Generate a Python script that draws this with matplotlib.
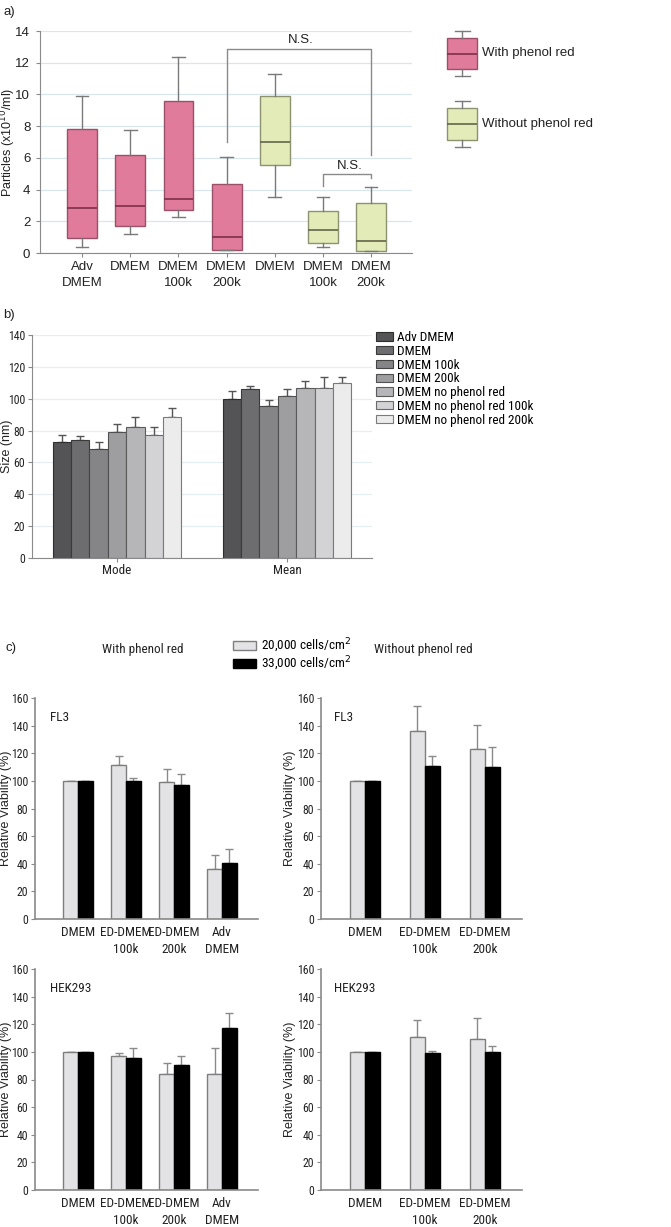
import matplotlib
matplotlib.use("Agg")
import matplotlib.pyplot as plt
from matplotlib import font_manager as fm
import numpy as np
from matplotlib.patches import Patch

plt.rcParams['font.family'] = ['Liberation Sans', 'DejaVu Sans']

W, H = 671, 1227

# ---- panel a: particle counts (box stats: whislo, q1, med, q3, whishi)
a_labels = ["Adv\nDMEM", "DMEM", "DMEM\n100k", "DMEM\n200k", "DMEM", "DMEM\n100k", "DMEM\n200k"]
a_group = ["with", "with", "with", "with", "without", "without", "without"]
a_whislo = [0.38, 1.2, 2.29, 0.2, 3.52, 0.39, 0.1]
a_q1 = [0.97, 1.73, 2.69, 0.2, 5.54, 0.66, 0.1]
a_med = [2.86, 2.99, 3.41, 0.99, 7.03, 1.44, 0.73]
a_q3 = [7.8, 6.19, 9.58, 4.36, 9.87, 2.62, 3.14]
a_whishi = [9.87, 7.77, 12.36, 6.06, 11.3, 3.52, 4.19]

# ---- panel b: vesicle size
b_series = ["Adv DMEM", "DMEM", "DMEM 100k", "DMEM 200k", "DMEM no phenol red",
            "DMEM no phenol red 100k", "DMEM no phenol red 200k"]
b_groups = ["Mode", "Mean"]
b_mode = [73, 74, 68.3, 78.8, 82.4, 77.1, 88.7]
b_mode_err = [4.0, 2.7, 4.6, 5.2, 6.3, 5.1, 5.2]
b_mean = [100, 106, 95.4, 101.4, 106.9, 106.9, 109.6]
b_mean_err = [4.6, 2.2, 3.9, 4.9, 4.4, 6.9, 4.0]

# ---- panel c: relative viability
c_series = ["20,000 cells/cm$^2$", "33,000 cells/cm$^2$"]
c_cats_with = ["DMEM", "ED-DMEM\n100k", "ED-DMEM\n200k", "Adv\nDMEM"]
c_cats_without = ["DMEM", "ED-DMEM\n100k", "ED-DMEM\n200k"]

fl3_with_lo = [100, 111.5, 99.4, 36]
fl3_with_lo_err = [0, 6.7, 9, 10]
fl3_with_hi = [100, 99.6, 97.2, 40.3]
fl3_with_hi_err = [0, 2.2, 7.5, 10.2]

fl3_without_lo = [100, 136, 123.3]
fl3_without_lo_err = [0, 18.5, 17]
fl3_without_hi = [100, 110.8, 110.3]
fl3_without_hi_err = [0, 7, 14]

hek_with_lo = [100, 97.1, 83.9, 83.9]
hek_with_lo_err = [0, 1.9, 7.7, 19.2]
hek_with_hi = [100, 95.9, 90.8, 117.1]
hek_with_hi_err = [0, 7, 6.5, 10.9]

hek_without_lo = [100, 111.1, 109.2]
hek_without_lo_err = [0, 12.3, 15]
hek_without_hi = [100, 99.3, 100.2]
hek_without_hi_err = [0, 1.2, 3.8]


# look for a condensed sans face; fall back to a smaller regular font
def find_narrow():
    prefs = ["Liberation Sans Narrow", "Roboto Condensed", "Open Sans Condensed",
             "Noto Sans", "Open Sans", "Roboto", "DejaVu Sans"]
    found = []
    for f in fm.fontManager.ttflist:
        tag = (f.name + " " + str(f.stretch) + " " + f.fname).lower()
        if "condensed" not in tag and "narrow" not in tag:
            continue
        if "extra" in tag or "ultra" in tag or "semi" in tag:
            continue
        if f.style != "normal" or f.weight not in (400, "normal", "regular"):
            continue
        rank = next((i for i, p in enumerate(prefs) if f.name.startswith(p)), 99)
        found.append((rank, f.fname))
    if found:
        return sorted(found)[0][1]
    return None


NARROW_FILE = find_narrow()


def nfp(size):
    if NARROW_FILE:
        return fm.FontProperties(fname=NARROW_FILE, size=size)
    return fm.FontProperties(family=['Liberation Sans', 'DejaVu Sans'], size=size * 0.82)


def rect(l, t, r, b):
    return [l / W, 1 - b / H, (r - l) / W, (b - t) / H]


def ftext(x, y, s, **kw):
    fig.text(x / W, 1 - y / H, s, **kw)


fig = plt.figure(figsize=(W / 100, H / 100), dpi=100)

PINK, PINK_E, PINK_M = "#e07b9c", "#9a5068", "#7d2f4a"
GREEN, GREEN_E, GREEN_M = "#e3ebb8", "#8e9270", "#62654a"
GRIDC = "#d9e7ec"
SPINE = "#8a8a8a"
TXT = "#222"

# ================= panel a =================
ax = fig.add_axes(rect(40, 31, 412, 253))
pos = np.arange(1, len(a_labels) + 1)
stats = [dict(whislo=a_whislo[i], q1=a_q1[i], med=a_med[i], q3=a_q3[i],
              whishi=a_whishi[i], fliers=[]) for i in range(len(a_labels))]
bp = ax.bxp(stats, positions=pos, widths=0.62, patch_artist=True,
            showfliers=False, capwidths=0.26)
for i, g in enumerate(a_group):
    fc, ec, mc = (PINK, PINK_E, PINK_M) if g == "with" else (GREEN, GREEN_E, GREEN_M)
    bp['boxes'][i].set(facecolor=fc, edgecolor=ec, linewidth=1)
    bp['medians'][i].set(color=mc, linewidth=1.2)
for k in ('whiskers', 'caps'):
    for ln in bp[k]:
        ln.set(color="#7a7a7a", linewidth=1)
ax.set_xlim(0.125, 7.85)
ax.set_ylim(0, 14)
ax.set_yticks(np.arange(0, 15, 2))
ax.set_xticks(pos)
ax.set_xticklabels(a_labels, fontsize=9.5, color=TXT, linespacing=1.4)
ax.tick_params(axis='y', labelsize=9.5, colors=TXT, length=3, color=SPINE, pad=4)
ax.tick_params(axis='x', length=3, color=SPINE, pad=3)
ax.yaxis.grid(True, color=GRIDC, linewidth=0.9)
ax.set_axisbelow(True)
for s in ('top', 'right'):
    ax.spines[s].set_visible(False)
for s in ('left', 'bottom'):
    ax.spines[s].set_color(SPINE)
ax.set_ylabel("Particles (x10$^{10}$/ml)", fontsize=9, color=TXT)
ax.yaxis.set_label_coords(-0.06, 0.5)

# significance brackets
bc = "#8a8a8a"
ax.plot([4, 4, 7, 7], [7.0, 12.85, 12.85, 6.2], color=bc, lw=1)
ax.text(5.55, 13.45, "N.S.", ha='center', va='center', fontsize=9.5, color=TXT)
ax.plot([6, 6, 7, 7], [4.23, 4.99, 4.99, 4.7], color=bc, lw=1)
ax.text(6.55, 5.5, "N.S.", ha='center', va='center', fontsize=9.5, color=TXT)

# legend for panel a (small boxes)
lax = fig.add_axes(rect(430, 20, 670, 160))
lax.set_xlim(430, 670)
lax.set_ylim(160, 20)
lax.axis('off')
leg_stats = [dict(whislo=76, q1=69, med=53.5, q3=38, whishi=31, fliers=[]),
             dict(whislo=147, q1=140, med=124, q3=108, whishi=101, fliers=[])]
lbp = lax.bxp(leg_stats, positions=[462, 462], widths=30, patch_artist=True,
              showfliers=False, capwidths=15)
for i, (fc, ec, mc) in enumerate([(PINK, PINK_E, PINK_M), (GREEN, GREEN_E, GREEN_M)]):
    lbp['boxes'][i].set(facecolor=fc, edgecolor=ec, linewidth=1)
    lbp['medians'][i].set(color=mc, linewidth=1.2)
for k in ('whiskers', 'caps'):
    for ln in lbp[k]:
        ln.set(color="#7a7a7a", linewidth=1)
lax.text(482, 53, "With phenol red", va='center', fontsize=9.5, color=TXT)
lax.text(482, 124, "Without phenol red", va='center', fontsize=9.5, color=TXT)

ftext(3, 12, "a)", fontsize=9.5, va='center', color=TXT)

# ================= panel b =================
bx = fig.add_axes(rect(32, 335, 372, 558))
b_colors = ["#545456", "#6d6d6f", "#858587", "#9e9ea0", "#b6b6b8", "#d3d3d5", "#ececec"]
b_edges = ["#2e2e2e", "#3a3a3a", "#444", "#505050", "#5a5a5a", "#6a6a6a", "#7a7a7a"]
gx = np.arange(len(b_groups))
bw = 0.108
for i, name in enumerate(b_series):
    vals = [b_mode[i], b_mean[i]]
    errs = [b_mode_err[i], b_mean_err[i]]
    xs = gx + (i - 3) * bw
    bx.bar(xs, vals, bw, color=b_colors[i], edgecolor=b_edges[i], linewidth=0.8,
           label=name, zorder=2)
    bx.errorbar(xs, vals, yerr=[[0, 0], errs], fmt='none', ecolor="#555",
                elinewidth=1, capsize=3, capthick=1, zorder=1)
bx.set_xlim(-0.5, 1.5)
bx.set_ylim(0, 140)
bx.set_yticks(np.arange(0, 141, 20))
bx.set_xticks(gx)
bx.set_xticklabels(b_groups, color=TXT)
bx.set_yticklabels([str(v) for v in range(0, 141, 20)], color=TXT)
for lab in bx.get_xticklabels():
    lab.set_fontproperties(nfp(9.5))
for lab in bx.get_yticklabels():
    lab.set_fontproperties(nfp(8.5))
bx.tick_params(axis='y', length=3, color=SPINE, pad=2)
bx.tick_params(axis='x', length=3, color=SPINE, pad=1.5)
bx.yaxis.grid(True, color="#e6eef0", linewidth=0.9)
bx.set_axisbelow(True)
for s in ('top', 'right'):
    bx.spines[s].set_visible(False)
for s in ('left', 'bottom'):
    bx.spines[s].set_color(SPINE)
bx.set_ylabel("Size (nm)", fontsize=9, color=TXT)
bx.yaxis.set_label_coords(-0.055, 0.5)
bx.legend(loc='upper left', bbox_to_anchor=(376 / W, 1 - 331 / H),
          bbox_transform=fig.transFigure, frameon=False,
          prop=nfp(9.5), handlelength=1.3, handleheight=0.6,
          handletextpad=0.3, labelspacing=0.06, borderpad=0, borderaxespad=0)

ftext(3, 315, "b)", fontsize=9.5, va='center', color=TXT)

# ================= panel c =================
LIGHT, LIGHT_E = "#e3e3e5", "#7e7e7e"
DARK = "#000000"


def viability(rect_px, cats, lo, lo_err, hi, hi_err, bw, xlim, cell, lab_x):
    cx = fig.add_axes(rect(*rect_px))
    xs = np.arange(len(cats))
    cx.bar(xs - bw / 2, lo, bw, color=LIGHT, edgecolor=LIGHT_E, linewidth=1, zorder=2)
    cx.bar(xs + bw / 2, hi, bw, color=DARK, edgecolor=DARK, linewidth=1, zorder=2)
    cx.errorbar(xs - bw / 2, lo, yerr=[np.zeros(len(lo)), lo_err], fmt='none',
                ecolor="#8a8a8a", elinewidth=1, capsize=3, capthick=1, zorder=1)
    cx.errorbar(xs + bw / 2, hi, yerr=[np.zeros(len(hi)), hi_err], fmt='none',
                ecolor="#8a8a8a", elinewidth=1, capsize=3, capthick=1, zorder=1)
    cx.set_xlim(*xlim)
    cx.set_ylim(0, 160)
    cx.set_yticks(np.arange(0, 161, 20))
    cx.set_yticklabels([str(v) for v in range(0, 161, 20)], color=TXT)
    cx.set_xticks(xs)
    cx.set_xticklabels(cats, color=TXT, linespacing=1.45)
    for lab in cx.get_xticklabels():
        lab.set_fontproperties(nfp(9.5))
    for lab in cx.get_yticklabels():
        lab.set_fontproperties(nfp(8.5))
    cx.tick_params(axis='y', length=3, color=SPINE, pad=2)
    cx.tick_params(axis='x', length=0, pad=5)
    for s in ('top', 'right'):
        cx.spines[s].set_visible(False)
    for s in ('left', 'bottom'):
        cx.spines[s].set_color(SPINE)
        cx.spines[s].set_linewidth(1.2)
    cx.set_ylabel("Relative Viability (%)", fontsize=9, color=TXT)
    cx.yaxis.set_label_coords(lab_x, 0.5)
    cx.text(0.067, 0.91, cell, transform=cx.transAxes, fontproperties=nfp(9.5),
            va='center', color=TXT)
    return cx


xl_with = (-0.896, 3.75)
xl_without = (-0.733, 2.617)
viability((35, 698, 258, 919), c_cats_with, fl3_with_lo, fl3_with_lo_err,
          fl3_with_hi, fl3_with_hi_err, 0.306, xl_with, "FL3", -0.105)
viability((321, 698, 522, 919), c_cats_without, fl3_without_lo, fl3_without_lo_err,
          fl3_without_hi, fl3_without_hi_err, 0.25, xl_without, "FL3", -0.122)
viability((35, 969, 258, 1190), c_cats_with, hek_with_lo, hek_with_lo_err,
          hek_with_hi, hek_with_hi_err, 0.306, xl_with, "HEK293", -0.105)
viability((321, 969, 522, 1190), c_cats_without, hek_without_lo, hek_without_lo_err,
          hek_without_hi, hek_without_hi_err, 0.25, xl_without, "HEK293", -0.122)

ftext(5, 648, "c)", fontsize=9.5, va='center', color=TXT)
ftext(143, 649, "With phenol red", fontproperties=nfp(9.5), ha='center',
      va='center', color=TXT)
ftext(423, 649, "Without phenol red", fontproperties=nfp(9.5), ha='center',
      va='center', color=TXT)
c_handles = [Patch(facecolor=LIGHT, edgecolor=LIGHT_E, linewidth=1),
             Patch(facecolor=DARK, edgecolor=DARK, linewidth=1)]
fig.legend(c_handles, c_series, loc='upper left',
           bbox_to_anchor=(233 / W, 1 - 637 / H), frameon=False,
           prop=nfp(9.5), handlelength=1.75, handleheight=0.75,
           handletextpad=0.35, labelspacing=0.0, borderpad=0, borderaxespad=0)

fig.savefig("out.png", dpi=100)
